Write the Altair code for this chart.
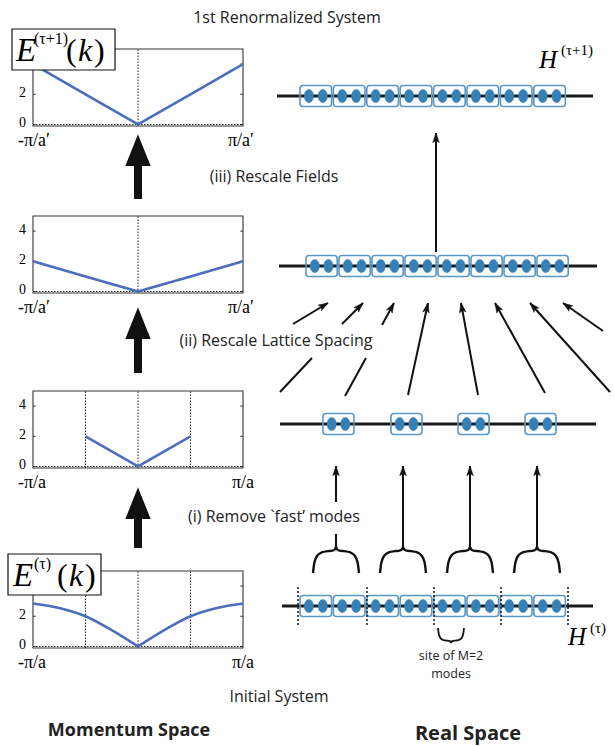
import math
import altair as alt
import pandas as pd

W, H = 614, 746

# ---------------- momentum-space data (k in units of pi/a) ----------------
p1_k = [-1.0, -0.5, 0.0, 0.5, 1.0]
p1_E = [4.0, 2.0, 0.0, 2.0, 4.0]
p2_k = [-1.0, -0.5, 0.0, 0.5, 1.0]
p2_E = [2.0, 1.0, 0.0, 1.0, 2.0]
p3_k = [-0.5, -0.25, 0.0, 0.25, 0.5]
p3_E = [2.0, 1.0, 0.0, 1.0, 2.0]
p4_k = [-1.0, -0.75, -0.5, -0.25, 0.0, 0.25, 0.5, 0.75, 1.0]
p4_E = [2.85, 2.55, 2.0, 1.08, 0.0, 1.08, 2.0, 2.55, 2.85]

y_ticks_full = [0, 2, 4]
y_ticks_boxed = [0, 2]          # the "4" sits under the E(k) label box
x_tick_values = [-1, 1]
x_labels_primed = ["-π/a′", "π/a′"]
x_labels_plain = ["-π/a", "π/a"]
grid_one = [0.0]
grid_three = [-0.5, 0.0, 0.5]

# ---------------- real-space content ----------------
sites_full = 8
sites_kept = 4
modes_per_site = 2

title_texts = ["1st Renormalized System", "(iii) Rescale Fields",
               "(ii) Rescale Lattice Spacing", "(i) Remove `fast’ modes",
               "Initial System"]
footer_texts = ["Momentum Space", "Real Space"]
site_note = ["site of M=2", "modes"]

# ---------------- layout ----------------
XS = alt.Scale(domain=[0, W], range=[0, W], nice=False, zero=False)
YS = alt.Scale(domain=[0, H], range=[0, H], nice=False, zero=False)
SANS = "Open Sans"
SERIF = "Liberation Serif"
CURVE = "#4a6dbd"
BOXC = "#5a98c8"
DOTC = "#3580b6"


def cx(f="x"):
    return alt.X(f"{f}:Q", scale=XS, axis=None)


def cy(f="y"):
    return alt.Y(f"{f}:Q", scale=YS, axis=None)


def text_layer(rows, **kw):
    df = pd.DataFrame(rows, columns=["x", "y", "t"])
    return alt.Chart(df).mark_text(**kw).encode(x=cx(), y=cy(), text="t:N")


def panel(k, E, grid, labels, yticks, x0, x1, ytop, ybot, smooth=False):
    xs = alt.Scale(domain=[-1, 1], range=[x0, x1], nice=False, zero=False)
    ys = alt.Scale(domain=[-0.1, 5.0], range=[ybot, ytop], nice=False, zero=False)
    one = pd.DataFrame({"a": [0]})
    frame = alt.Chart(one).mark_rect(fill="white", fillOpacity=0, stroke="#333",
                                     strokeWidth=1.1).encode(
        x=alt.XDatum(-1, scale=xs, axis=None), x2=alt.X2Datum(1),
        y=alt.YDatum(-0.1, scale=ys, axis=None), y2=alt.Y2Datum(5.0))
    tick_df = pd.DataFrame({"v": y_ticks_full})
    lticks = alt.Chart(tick_df).mark_rule(color="#333", strokeWidth=1).encode(
        x=alt.XDatum(-1, scale=xs, axis=None), x2=alt.X2Datum(-0.975),
        y=alt.Y("v:Q", scale=ys, axis=None))
    rticks = alt.Chart(tick_df).mark_rule(color="#333", strokeWidth=1).encode(
        x=alt.XDatum(0.975, scale=xs, axis=None), x2=alt.X2Datum(1),
        y=alt.Y("v:Q", scale=ys, axis=None))
    vgrid = alt.Chart(pd.DataFrame({"k": grid})).mark_rule(
        color="#222", strokeWidth=1, strokeDash=[1.5, 1.5]).encode(
        x=alt.X("k:Q", scale=xs, axis=None),
        y=alt.YDatum(-0.1, scale=ys, axis=None), y2=alt.Y2Datum(5.0))
    hzero = alt.Chart(one).mark_rule(
        color="#222", strokeWidth=1, strokeDash=[1.5, 1.5]).encode(
        x=alt.XDatum(-1, scale=xs, axis=None), x2=alt.X2Datum(1),
        y=alt.YDatum(0, scale=ys, axis=None))
    cdf = pd.DataFrame({"k": k, "E": E})
    cdf["side"] = ["L" if v <= 0 else "R" for v in k]
    extra = cdf[cdf["k"] == 0].assign(side="R")
    cdf = pd.concat([cdf, extra], ignore_index=True)
    curve = alt.Chart(cdf).mark_line(
        color=CURVE, strokeWidth=2.6, interpolate="monotone" if smooth else "linear").encode(
        x=alt.X("k:Q", scale=xs, axis=None),
        y=alt.Y("E:Q", scale=ys, axis=None), detail="side:N", order="k:Q")
    ylab = alt.Chart(pd.DataFrame({"v": yticks, "t": [str(v) for v in yticks]})).mark_text(
        align="right", baseline="middle", dx=-7, dy=-1, font=SERIF, fontSize=14, color="black").encode(
        x=alt.XDatum(-1, scale=xs, axis=None),
        y=alt.Y("v:Q", scale=ys, axis=None), text="t:N")
    xl_left = alt.Chart(pd.DataFrame({"k": [x_tick_values[0]], "t": [labels[0]]})).mark_text(
        align="left", baseline="top", dx=-15, dy=6, font=SERIF, fontSize=18, color="black").encode(
        x=alt.X("k:Q", scale=xs, axis=None),
        y=alt.YDatum(-0.1, scale=ys, axis=None), text="t:N")
    xl_right = alt.Chart(pd.DataFrame({"k": [x_tick_values[1]], "t": [labels[1]]})).mark_text(
        align="right", baseline="top", dx=11, dy=6, font=SERIF, fontSize=18, color="black").encode(
        x=alt.X("k:Q", scale=xs, axis=None),
        y=alt.YDatum(-0.1, scale=ys, axis=None), text="t:N")
    return alt.layer(frame, lticks, rticks, vgrid, hzero, curve, ylab, xl_left, xl_right)


panels = [
    panel(p1_k, p1_E, grid_one, x_labels_primed, y_ticks_boxed, 33, 243, 49, 126),
    panel(p2_k, p2_E, grid_one, x_labels_primed, y_ticks_full, 33, 243, 216, 293),
    panel(p3_k, p3_E, grid_three, x_labels_plain, y_ticks_full, 33, 243, 391, 468),
    panel(p4_k, p4_E, grid_three, x_labels_plain, y_ticks_boxed, 33, 243, 571, 648, smooth=True),
]

# ---------------- real-space chains ----------------
chains = [
    dict(y=96, line=(277, 593), lefts=[300 + i * 33.4 for i in range(sites_full)], w=31.6),
    dict(y=266, line=(279, 597), lefts=[306 + i * 33.0 for i in range(sites_full)], w=31.2),
    dict(y=424, line=(280, 596), lefts=[323, 391, 458, 525][:sites_kept], w=31.0),
    dict(y=606, line=(282, 593), lefts=[300 + i * 33.4 for i in range(sites_full)], w=31.6),
]
line_rows, box_rows, dot_rows = [], [], []
for c in chains:
    line_rows.append(dict(x=c["line"][0], x2=c["line"][1], y=c["y"]))
    for L in c["lefts"]:
        box_rows.append(dict(x=L, x2=L + c["w"], y=c["y"] - 10.5, y2=c["y"] + 10.5))
        for m in range(modes_per_site):
            frac = 0.28 if m == 0 else 0.72
            dot_rows.append(dict(x=L + c["w"] * frac, y=c["y"]))

chain_lines = alt.Chart(pd.DataFrame(line_rows)).mark_rule(
    color="#1a1a1a", strokeWidth=2.8).encode(x=cx(), x2="x2:Q", y=cy())
chain_boxes = alt.Chart(pd.DataFrame(box_rows)).mark_rect(
    fill="white", fillOpacity=0, stroke=BOXC, strokeWidth=1.6, cornerRadius=3).encode(
    x=cx(), x2="x2:Q", y=cy(), y2="y2:Q")
ELLIPSE = ("M0,-1C0.4,-1 0.7,-0.55 0.7,0C0.7,0.55 0.4,1 0,1"
           "C-0.4,1 -0.7,0.55 -0.7,0C-0.7,-0.55 -0.4,-1 0,-1Z")
chain_dots = alt.Chart(pd.DataFrame(dot_rows)).mark_point(
    shape=ELLIPSE, filled=True, fill=DOTC, stroke=DOTC, strokeWidth=0.5,
    opacity=1, size=175).encode(x=cx(), y=cy())

sep_x = [298, 367, 434, 501, 568]
separators = alt.Chart(pd.DataFrame({"x": sep_x, "y": [587] * 5, "y2": [625] * 5})).mark_rule(
    color="#222", strokeWidth=1.6, strokeDash=[2, 2]).encode(x=cx(), y=cy(), y2="y2:Q")

# ---------------- braces ----------------
brace_u = [0.0, 0.03, 0.1, 0.2, 0.32, 0.42, 0.47, 0.5]
brace_v = [0.0, 0.4, 0.68, 0.8, 0.84, 0.86, 0.9, 1.0]


def brace_rows(cxp, base, width, height, bid, up=True):
    rows = []
    for side in (0, 1):
        pts = list(zip(brace_u, brace_v))
        if side == 1:
            pts = [(1 - u, v) for u, v in pts][::-1]
        for o, (u, v) in enumerate(pts):
            sgn = -1 if up else 1
            rows.append(dict(x=cxp - width / 2 + u * width, y=base + sgn * v * height,
                             id=f"{bid}-{side}", o=o))
    return rows


br = []
for i, c in enumerate([336, 403, 470, 537]):
    br += brace_rows(c, 573, 46, 26, f"b{i}")
braces_top = alt.Chart(pd.DataFrame(br)).mark_line(
    color="#111", strokeWidth=2.4, interpolate="monotone").encode(
    x=cx(), y=cy(), detail="id:N", order="o:Q")
braces_bot = alt.Chart(pd.DataFrame(brace_rows(451, 628, 26, 15, "s", up=False))).mark_line(
    color="#111", strokeWidth=1.8, interpolate="monotone").encode(
    x=cx(), y=cy(), detail="id:N", order="o:Q")

# ---------------- thin arrows ----------------
arrows = [
    [(293, 324, 328, 303)],
    [(280, 392, 312, 358), (342, 324, 363, 303)],
    [(345, 396, 366, 358), (382, 325, 394, 303)],
    [(408, 395, 428, 303)],
    [(478, 395, 461, 303)],
    [(545, 393, 495, 303)],
    [(610, 392, 530, 303)],
    [(603, 331, 563, 303)],
    [(436, 252, 436, 133)],
    [(336, 547, 336, 534), (336, 502, 336, 466)],
    [(403, 547, 403, 466)],
    [(470, 547, 470, 466)],
    [(537, 547, 537, 466)],
]
seg_rows, head_rows = [], []
R = 5.5
for a in arrows:
    for (x1, y1, x2, y2) in a:
        seg_rows.append(dict(x=x1, y=y1, x2=x2, y2=y2))
    x1, y1, x2, y2 = a[-1]
    dx, dy = x2 - x1, y2 - y1
    L = math.hypot(dx, dy)
    ang = math.degrees(math.atan2(dx, -dy)) % 360
    head_rows.append(dict(x=x2 - dx / L * R, y=y2 - dy / L * R, ang=ang))

shafts = alt.Chart(pd.DataFrame(seg_rows)).mark_rule(color="#111", strokeWidth=2).encode(
    x=cx(), y=cy(), x2="x2:Q", y2="y2:Q")
heads = alt.Chart(pd.DataFrame(head_rows)).mark_point(
    shape="M0,-1L0.6,0.75L0,0.35L-0.6,0.75Z", filled=True, fill="#111", stroke="#111",
    strokeWidth=0.5, opacity=1, size=(2 * R) ** 2).encode(
    x=cx(), y=cy(), angle=alt.Angle("ang:Q", scale=None))

# ---------------- big arrows (left column) ----------------
big = pd.DataFrame({"x": [138, 138, 138], "tail": [199, 373, 548], "tip": [137, 310, 490]})
big["shaft_top"] = big["tip"] + 20
big["head_c"] = big["tip"] + 14
big_shafts = alt.Chart(big).mark_rule(color="#111", strokeWidth=8).encode(
    x=cx(), y=cy("tail"), y2="shaft_top:Q")
big_heads = alt.Chart(big).mark_point(
    shape="M0,-1L0.8,1L-0.8,1Z", filled=True, fill="#111", stroke="#111",
    opacity=1, size=28 ** 2).encode(x=cx(), y=cy("head_c"))

# ---------------- E(k) label boxes ----------------
label_boxes = alt.Chart(pd.DataFrame({"x": [12, 8], "x2": [115, 101], "y": [29, 554], "y2": [70, 595]})).mark_rect(
    fill="white", stroke="#111", strokeWidth=1.2).encode(x=cx(), x2="x2:Q", y=cy(), y2="y2:Q")
E_big = text_layer([(16, 61, "E"), (13, 586, "E")], font=SERIF, fontSize=33,
                   fontStyle="italic", align="left", baseline="alphabetic", color="black")
E_sup = text_layer([(34, 44, "(τ+1)"), (34, 569, "(τ)")], font=SERIF, fontSize=16,
                   align="left", baseline="alphabetic", color="black")
E_par = text_layer([(66, 61, "("), (94, 61, ")"), (57, 586, "("), (85, 586, ")")],
                   font=SERIF, fontSize=32, align="left", baseline="alphabetic", color="black")
E_k = text_layer([(78, 61, "k"), (69, 586, "k")], font=SERIF, fontSize=32,
                 fontStyle="italic", align="left", baseline="alphabetic", color="black")

H_big = text_layer([(539, 68, "H"), (568, 645, "H")], font=SERIF, fontSize=25,
                   fontStyle="italic", align="left", baseline="alphabetic", color="black")
H_sup = text_layer([(561, 55, "(τ+1)"), (590, 633, "(τ)")], font=SERIF, fontSize=15,
                   align="left", baseline="alphabetic", color="black")

# ---------------- captions ----------------
captions = text_layer([(287, 18, title_texts[0]), (274, 177, title_texts[1]),
                       (276, 341, title_texts[2]), (274, 517, title_texts[3]),
                       (279, 697, title_texts[4])],
                      font=SANS, fontSize=16, align="center", baseline="middle", color="#222")
footer_left = text_layer([(129, 731, footer_texts[0])], font=SANS, fontSize=18,
                         fontWeight="bold", align="center", baseline="middle", color="#222")
footer_right = text_layer([(468, 734, footer_texts[1])], font=SANS, fontSize=20,
                          fontWeight="bold", align="center", baseline="middle", color="#222")
notes = text_layer([(451, 656, site_note[0]), (451, 674, site_note[1])],
                   font=SANS, fontSize=12.5, align="center", baseline="middle", color="#222")

canvas = alt.layer(chain_lines, chain_boxes, chain_dots, separators, braces_top, braces_bot,
                   shafts, heads, big_shafts, big_heads, label_boxes, E_big, E_sup, E_par, E_k,
                   H_big, H_sup, captions, footer_left, footer_right, notes)

chart = alt.layer(*panels, canvas).resolve_scale(
    x="independent", y="independent").properties(
    width=W, height=H, autosize=alt.AutoSizeParams(type="none"), padding=0,
    background="white").configure_view(stroke=None)

chart.save("out.html", embed_options={"renderer": "svg", "actions": False})
